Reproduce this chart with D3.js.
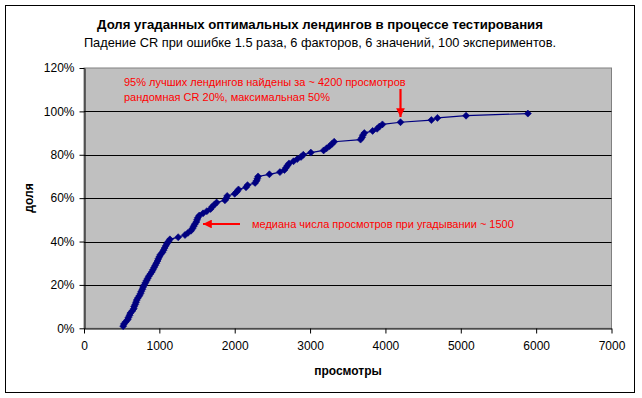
<!DOCTYPE html>
<html>
<head>
    <meta charset="utf-8">
    <title>Доля угаданных оптимальных лендингов</title>
    <script src="https://cdn.jsdelivr.net/npm/d3@7"></script>
    <style>
        body { margin: 0; background: #fff; }
        text { font-family: "Liberation Sans", Arial, sans-serif; }
    </style>
</head>
<body>
<div id="chart"></div>
<script>
    // views needed to find the optimal landing, cumulative share 1%..99%
    var views = [520, 530, 555, 580, 590, 605, 615, 640, 660, 665,
                 680, 690, 700, 715, 735, 750, 760, 775, 785, 800,
                 815, 830, 845, 860, 880, 900, 915, 930, 945, 960,
                 975, 985, 1000, 1015, 1040, 1055, 1070, 1085, 1100, 1120,
                 1140, 1250, 1340, 1380, 1420, 1440, 1455, 1470, 1490, 1500,
                 1510, 1530, 1580, 1630, 1680, 1700, 1730, 1760, 1870, 1890,
                 1900, 2000, 2030, 2050, 2150, 2170, 2270, 2290, 2300, 2310,
                 2460, 2600, 2660, 2680, 2700, 2720, 2780, 2830, 2880, 2910,
                 3010, 3180, 3220, 3260, 3290, 3320, 3670, 3690, 3700, 3720,
                 3830, 3890, 3920, 3960, 4200, 4610, 4690, 5070, 5890];
    var shares = views.map(function(v, i) { return (i + 1) / 100; });

    var xTicks = [0, 1000, 2000, 3000, 4000, 5000, 6000, 7000];
    var yTicks = [0, 0.2, 0.4, 0.6, 0.8, 1.0, 1.2];

    var width = 642, height = 398;
    var plot = { left: 84, right: 611.5, top: 68, bottom: 328.3 };

    var svg = d3.select("#chart").append("svg")
        .attr("width", width)
        .attr("height", height);

    // outer frame
    svg.append("rect")
        .attr("x", 5.5).attr("y", 5.5)
        .attr("width", 629).attr("height", 387)
        .attr("fill", "#fff")
        .attr("stroke", "#000")
        .attr("stroke-width", 1);

    var x = d3.scaleLinear().domain([0, 7000]).range([plot.left, plot.right]);
    var y = d3.scaleLinear().domain([0, 1.2]).range([plot.bottom, plot.top]);

    // plot area
    svg.append("rect")
        .attr("x", plot.left).attr("y", plot.top)
        .attr("width", plot.right - plot.left)
        .attr("height", plot.bottom - plot.top)
        .attr("fill", "#c0c0c0")
        .attr("stroke", "#808080")
        .attr("stroke-width", 1);

    // gridlines
    svg.append("g").selectAll("line")
        .data(yTicks.slice(1, -1))
        .enter().append("line")
        .attr("x1", plot.left).attr("x2", plot.right)
        .attr("y1", function(d) { return Math.round(y(d)) + 0.5; })
        .attr("y2", function(d) { return Math.round(y(d)) + 0.5; })
        .attr("stroke", "#000")
        .attr("stroke-width", 1);

    // axes
    var xAxis = svg.append("g")
        .attr("transform", "translate(0," + (Math.round(plot.bottom) + 0.5) + ")")
        .call(d3.axisBottom(x).tickValues(xTicks).tickSize(5).tickPadding(6)
              .tickFormat(d3.format("d")).tickSizeOuter(0));
    var yAxis = svg.append("g")
        .attr("transform", "translate(" + (Math.round(plot.left) + 0.5) + ",0)")
        .call(d3.axisLeft(y).tickValues(yTicks).tickSize(5).tickPadding(5)
              .tickFormat(d3.format(".0%")).tickSizeOuter(0));

    [xAxis, yAxis].forEach(function(a) {
        a.select(".domain").attr("stroke", "#000");
        a.selectAll(".tick line").attr("stroke", "#000");
        a.selectAll(".tick text")
            .attr("fill", "#000")
            .style("font-size", "12px")
            .style("font-family", "'Liberation Sans', Arial, sans-serif");
    });
    xAxis.selectAll(".tick text").attr("dy", "0.9em");

    // series line
    svg.append("path")
        .datum(views)
        .attr("fill", "none")
        .attr("stroke", "#000080")
        .attr("stroke-width", 1.2)
        .attr("d", d3.line()
            .x(function(d) { return x(d); })
            .y(function(d, i) { return y(shares[i]); }));

    // diamond markers
    var diamond = "M0,-3.5L3.5,0L0,3.5L-3.5,0Z";
    svg.append("g").selectAll("path")
        .data(views)
        .enter().append("path")
        .attr("d", diamond)
        .attr("transform", function(d, i) {
            return "translate(" + x(d) + "," + y(shares[i]) + ")";
        })
        .attr("fill", "#000080")
        .attr("stroke", "#000080")
        .attr("stroke-width", 0.6);

    // titles
    svg.append("text")
        .attr("x", 320).attr("y", 28.5)
        .attr("text-anchor", "middle")
        .style("font-size", "13.2px")
        .style("font-weight", "bold")
        .text("Доля угаданных оптимальных лендингов в процессе тестирования");
    svg.append("text")
        .attr("x", 320).attr("y", 47)
        .attr("text-anchor", "middle")
        .style("font-size", "12.8px")
        .text("Падение CR при ошибке 1.5 раза, 6 факторов, 6 значений, 100 экспериментов.");

    svg.append("text")
        .attr("x", 348).attr("y", 375)
        .attr("text-anchor", "middle")
        .style("font-size", "12px")
        .style("font-weight", "bold")
        .text("просмотры");
    svg.append("text")
        .attr("transform", "translate(33,198) rotate(-90)")
        .attr("text-anchor", "middle")
        .style("font-size", "12px")
        .style("font-weight", "bold")
        .text("доля");

    // annotations
    var red = "#ff0000";
    var defs = svg.append("defs");
    defs.append("marker")
        .attr("id", "arrow")
        .attr("viewBox", "0 0 10 10")
        .attr("refX", 10).attr("refY", 5)
        .attr("markerWidth", 4).attr("markerHeight", 4)
        .attr("orient", "auto")
        .append("path")
        .attr("d", "M0,0L10,5L0,10Z")
        .attr("fill", red);

    svg.append("text")
        .attr("x", 124).attr("y", 86)
        .attr("fill", red)
        .style("font-size", "11px")
        .text("95% лучших лендингов найдены за ~ 4200 просмотров");
    svg.append("text")
        .attr("x", 124).attr("y", 101)
        .attr("fill", red)
        .style("font-size", "11px")
        .text("рандомная CR 20%, максимальная 50%");
    svg.append("line")
        .attr("x1", x(4200)).attr("y1", 89)
        .attr("x2", x(4200)).attr("y2", 117)
        .attr("stroke", red)
        .attr("stroke-width", 2.2)
        .attr("marker-end", "url(#arrow)");

    svg.append("text")
        .attr("x", 252).attr("y", 228)
        .attr("fill", red)
        .style("font-size", "11px")
        .text("медиана числа просмотров при угадывании ~ 1500");
    svg.append("line")
        .attr("x1", 240).attr("y1", 224)
        .attr("x2", 203).attr("y2", 224)
        .attr("stroke", red)
        .attr("stroke-width", 2.2)
        .attr("marker-end", "url(#arrow)");
</script>
</body>
</html>
